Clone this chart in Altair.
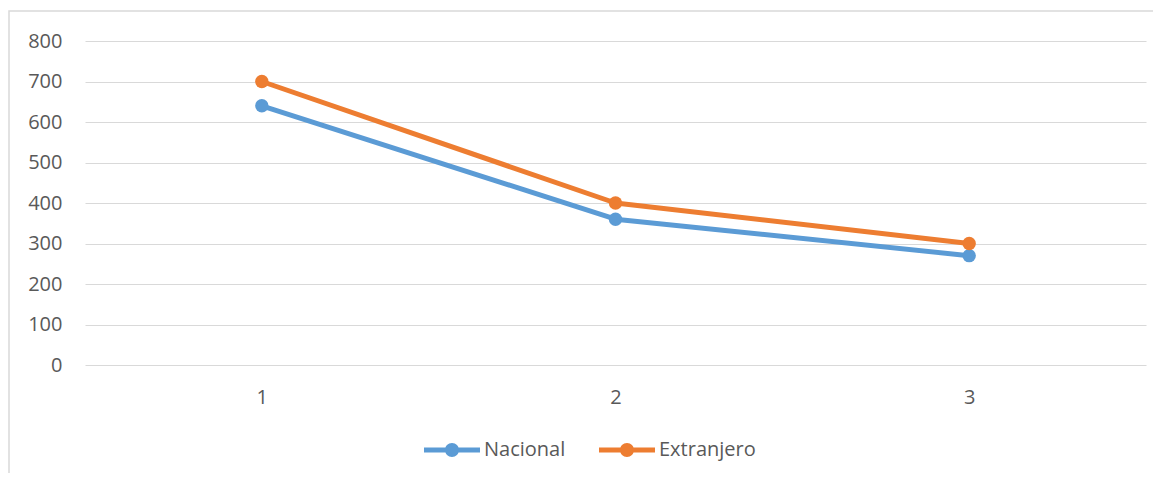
import altair as alt
import pandas as pd

categories = ["1", "2", "3"]
nacional = [640, 360, 270]
extranjero = [700, 400, 300]
series_names = ["Nacional", "Extranjero"]
colors = ["#5B9BD5", "#ED7D31"]
y_ticks = [0, 100, 200, 300, 400, 500, 600, 700, 800]

rows = []
for name, vals in zip(series_names, [nacional, extranjero]):
    for c, v in zip(categories, vals):
        rows.append({"cat": c, "serie": name, "valor": v})
df = pd.DataFrame(rows)

FONT = "Open Sans"
TXT = "#595959"
GRID = "#D9D9D9"

legend_path = ("M-1,-0.09 L1,-0.09 L1,0.09 L-1,0.09 Z "
               "M0.25,0 A0.25,0.25 0 1,1 -0.25,0 A0.25,0.25 0 1,1 0.25,0 Z")

x_enc = alt.X("cat:O", sort=categories,
              scale=alt.Scale(type="point", padding=0.5),
              axis=alt.Axis(title=None, labelAngle=0, ticks=False, domain=False,
                            grid=False, labelPadding=22, labelFont=FONT,
                            labelFontSize=20, labelColor=TXT))
y_enc = alt.Y("valor:Q", scale=alt.Scale(domain=[0, 800], nice=False),
              axis=alt.Axis(title=None, values=y_ticks, ticks=False, domain=False,
                            grid=True, gridColor=GRID, gridWidth=1.2,
                            labelPadding=23, labelFont=FONT, labelFontSize=20,
                            labelColor=TXT))
color_scale = alt.Scale(domain=series_names, range=colors)

base = alt.Chart(df)

lines = base.mark_line(strokeWidth=5, strokeCap="round", strokeJoin="round").encode(
    x=x_enc, y=y_enc,
    color=alt.Color("serie:N", scale=color_scale, legend=None),
    order=alt.Order("cat:O"),
)

points = base.mark_point(filled=True, size=180, opacity=1).encode(
    x=x_enc, y=y_enc,
    color=alt.Color("serie:N", scale=color_scale, sort=series_names,
                    legend=alt.Legend(title=None, orient="none", direction="horizontal",
                                      legendX=339, legendY=381,
                                      symbolType=legend_path, symbolSize=3136,
                                      symbolStrokeWidth=0, symbolOpacity=1,
                                      labelFont=FONT, labelFontSize=20,
                                      labelColor=TXT, labelOffset=4,
                                      columnPadding=33)),
)

frame = alt.Chart(alt.Data(values=[{}])).mark_rect(
    fill=None, stroke=GRID, strokeWidth=1.5
).encode(x=alt.value(-76), x2=alt.value(1200), y=alt.value(-30), y2=alt.value(600))

chart = alt.layer(frame, lines, points).resolve_legend(color="independent").properties(
    width=1061, height=324,
    autosize=alt.AutoSizeParams(type="none"),
    padding={"left": 77, "top": 33, "right": 7, "bottom": 108},
).configure(
    background="white",
    view=alt.ViewConfig(stroke="transparent", strokeWidth=0, strokeOpacity=0),
    axisX=alt.AxisConfig(grid=False, domain=False),
)

chart.save("out.html", embed_options={"renderer": "svg", "actions": False})
